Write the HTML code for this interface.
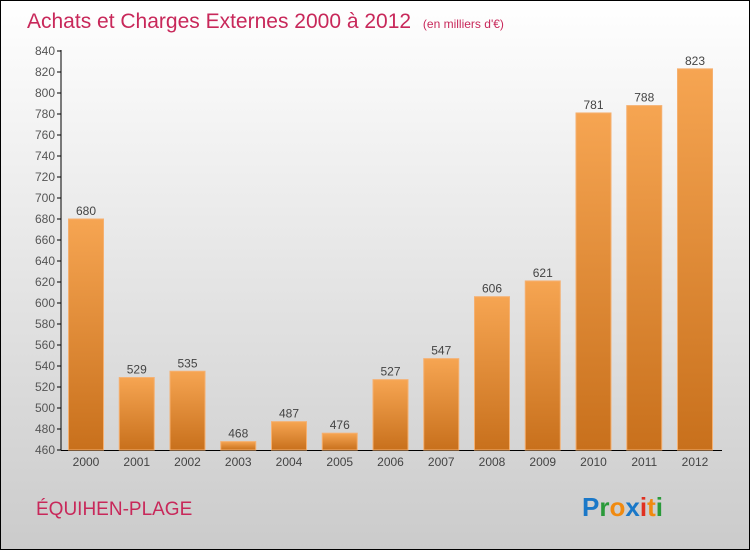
<!DOCTYPE html>
<html><head><meta charset="utf-8"><style>
body{margin:0;width:750px;height:550px;overflow:hidden;font-family:"Liberation Sans",sans-serif}
</style></head><body>
<svg id="c" width="750" height="550" xmlns="http://www.w3.org/2000/svg">
<defs>
<linearGradient id="bg" x1="0" y1="0" x2="0" y2="1"><stop offset="0" stop-color="#ffffff"/><stop offset="1" stop-color="#cbcbcb"/></linearGradient>
<linearGradient id="bar" x1="0" y1="0" x2="0" y2="1"><stop offset="0" stop-color="#f6a552"/><stop offset="1" stop-color="#c8701c"/></linearGradient>
</defs>
<rect x="0.5" y="0.5" width="749" height="549" fill="url(#bg)" stroke="#000"/>
<text x="27" y="28" font-size="21" fill="#c8285a">Achats et Charges Externes 2000 à 2012 <tspan font-size="12" dx="6">(en milliers d'€)</tspan></text>
<text x="36" y="515" font-size="19" fill="#c8285a">ÉQUIHEN-PLAGE</text>
<g font-size="26" font-weight="bold" font-family="'Liberation Sans',sans-serif">
<text x="582" y="516"><tspan fill="#1a78c8">P</tspan><tspan fill="#2a9a3a">r</tspan><tspan fill="#f08a10">o</tspan><tspan fill="#1a78c8">x</tspan><tspan fill="#e03020">i</tspan><tspan fill="#f08a10">t</tspan><tspan fill="#2a9a3a">i</tspan></text>
</g>
<g id="axes"></g>
<g id="bars"></g>
</svg>
<script>
const years=["2000","2001","2002","2003","2004","2005","2006","2007","2008","2009","2010","2011","2012"];
const values=[680,529,535,468,487,476,527,547,606,621,781,788,823];
const ticks=[460,480,500,520,540,560,580,600,620,640,660,680,700,720,740,760,780,800,820,840];
const NS="http://www.w3.org/2000/svg";
const y0=450,y1=51,vmin=460,vmax=840;
function y(v){return y0-(v-vmin)/(vmax-vmin)*(y0-y1);}
function x(i){return 86+i*50.75;}
function mk(t,a,p){const e=document.createElementNS(NS,t);for(const k in a)e.setAttribute(k,a[k]);p.appendChild(e);return e;}
const ax=document.getElementById('axes'),bs=document.getElementById('bars');
ticks.forEach(t=>{
 const l=mk('line',{x1:57,x2:61,y1:y(t),y2:y(t),stroke:'#000'},ax);
 
 
 const tx=mk('text',{x:55,y:y(t)+4,'text-anchor':'end','font-size':12,fill:'#555'},ax);tx.textContent=t;
 
 
});
values.forEach((v,i)=>{
 const r=mk('rect',{x:x(i)-17.5,y:y(v),width:35,height:y0-y(v),fill:'url(#bar)',stroke:'#f5b070','stroke-width':1},bs);
 
 
 const t=mk('text',{x:x(i),y:y(v)-4,'text-anchor':'middle','font-size':12,fill:'#444'},bs);t.textContent=v;
 
 
 const c=mk('text',{x:x(i),y:466,'text-anchor':'middle','font-size':12,fill:'#444'},bs);c.textContent=years[i];
 
 
});
const va=mk('line',{x1:61,x2:61,y1:50,y2:450.5,stroke:'#000'},ax);


const ha=mk('line',{x1:61,x2:722,y1:450.5,y2:450.5,stroke:'#000'},ax);


</script>
</body></html>
